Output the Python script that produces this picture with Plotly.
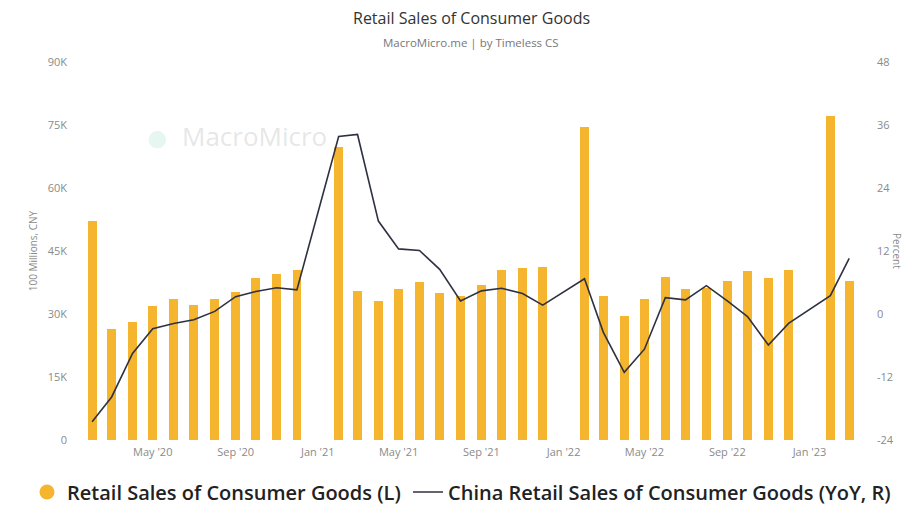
import plotly.graph_objects as go

months = [
    "2020-02-01", "2020-03-01", "2020-04-01", "2020-05-01", "2020-06-01", "2020-07-01",
    "2020-08-01", "2020-09-01", "2020-10-01", "2020-11-01", "2020-12-01",
    "2021-01-01", "2021-02-01", "2021-03-01", "2021-04-01", "2021-05-01", "2021-06-01",
    "2021-07-01", "2021-08-01", "2021-09-01", "2021-10-01", "2021-11-01", "2021-12-01",
    "2022-01-01", "2022-02-01", "2022-03-01", "2022-04-01", "2022-05-01", "2022-06-01",
    "2022-07-01", "2022-08-01", "2022-09-01", "2022-10-01", "2022-11-01", "2022-12-01",
    "2023-01-01", "2023-02-01", "2023-03-01",
]

# 100 Millions, CNY
retail_sales = [
    52130, 26450, 28178, 31973, 33526, 32203,
    33571, 35295, 38576, 39514, 40566,
    None, 69737, 35484, 33153, 35945, 37586,
    34925, 34395, 36833, 40454, 41043, 41269,
    None, 74426, 34233, 29483, 33547, 38742,
    35870, 36258, 37745, 40271, 38615, 40542,
    None, 77067, 37855,
]

# YoY, percent
retail_yoy = [
    -20.5, -15.8, -7.5, -2.8, -1.8, -1.1,
    0.5, 3.3, 4.3, 5.0, 4.6,
    None, 33.8, 34.2, 17.7, 12.4, 12.1,
    8.5, 2.5, 4.4, 4.9, 3.9, 1.7,
    None, 6.7, -3.5, -11.1, -6.7, 3.1,
    2.7, 5.4, 2.5, -0.5, -5.9, -1.8,
    None, 3.5, 10.6,
]

left_ticks = [0, 15000, 30000, 45000, 60000, 75000, 90000]
left_ticktext = ["0", "15K", "30K", "45K", "60K", "75K", "90K"]
right_ticks = [-24, -12, 0, 12, 24, 36, 48]
right_ticktext = ["-24", "-12", "0", "12", "24", "36", "48"]
x_ticks = ["2020-05-01", "2020-09-01", "2021-01-01", "2021-05-01", "2021-09-01",
           "2022-01-01", "2022-05-01", "2022-09-01", "2023-01-01"]
x_ticktext = ["May '20", "Sep '20", "Jan '21", "May '21", "Sep '21",
              "Jan '22", "May '22", "Sep '22", "Jan '23"]

BAR_COLOR = "#F6B52F"
LINE_COLOR = "#2E3142"
FONT = "Open Sans"

fig = go.Figure()

fig.add_trace(go.Bar(
    x=months, y=retail_sales, name="Retail Sales of Consumer Goods (L)",
    marker=dict(color=BAR_COLOR, line=dict(width=0)),
    width=13 * 86400000, showlegend=False, yaxis="y",
))
# legend proxy with circle marker
fig.add_trace(go.Scatter(
    x=[None], y=[None], mode="markers", name="Retail Sales of Consumer Goods (L)",
    marker=dict(color=BAR_COLOR, size=15, symbol="circle"), showlegend=True,
    legend="legend",
))
fig.add_trace(go.Scatter(
    x=months, y=retail_yoy, mode="lines", connectgaps=True,
    name="China Retail Sales of Consumer Goods (YoY, R)",
    line=dict(color=LINE_COLOR, width=1.6), yaxis="y2", legend="legend2",
))

tick_font = dict(family=FONT, size=11, color="#8a8a8a")
legend_font = dict(family=FONT, size=20, color="#222", weight=600)

fig.update_layout(
    width=913, height=509,
    margin=dict(l=80, r=51, t=62, b=69, autoexpand=False),
    paper_bgcolor="white", plot_bgcolor="white",
    font=dict(family=FONT, color="#333"),
    bargap=0,
    xaxis=dict(
        type="date", range=["2020-01-14", "2023-03-20"],
        tickvals=x_ticks, ticktext=x_ticktext, tickfont=tick_font,
        showgrid=False, zeroline=False, showline=False, ticks="",
        ticklabelstandoff=4,
    ),
    yaxis=dict(
        range=[0, 90000], tickvals=left_ticks, ticktext=left_ticktext,
        tickfont=tick_font, showgrid=False, zeroline=False, showline=False,
        ticklabelstandoff=12,
        title=dict(text="100 Millions, CNY", font=dict(family=FONT, size=10, color="#8a8a8a"),
                   standoff=8),
    ),
    yaxis2=dict(
        range=[-24, 48], overlaying="y", side="right",
        tickvals=right_ticks, ticktext=right_ticktext, tickfont=tick_font,
        showgrid=False, zeroline=False, showline=False,
        ticklabelstandoff=14,
    ),
    legend=dict(
        orientation="h", xref="container", yref="container",
        x=27 / 913, xanchor="left", y=17 / 509, yanchor="middle",
        font=legend_font, itemsizing="trace", itemwidth=30,
        bgcolor="rgba(0,0,0,0)",
    ),
    legend2=dict(
        orientation="h", xref="container", yref="container",
        x=408 / 913, xanchor="left", y=17 / 509, yanchor="middle",
        font=legend_font, itemsizing="trace", itemwidth=30,
        bgcolor="rgba(0,0,0,0)",
    ),
    annotations=[
        dict(text="Retail Sales of Consumer Goods", xref="paper", yref="paper",
             x=0.5, y=1, yshift=44, yanchor="middle", showarrow=False,
             font=dict(family=FONT, size=16, color="#333")),
        dict(text="MacroMicro.me | by Timeless CS", xref="paper", yref="paper",
             x=0.5, y=1, yshift=20, yanchor="middle", showarrow=False,
             font=dict(family=FONT, size=11.5, color="#777")),
        dict(text="Percent", xref="paper", yref="paper", x=1, xshift=44, y=0.5,
             textangle=90, showarrow=False,
             font=dict(family=FONT, size=10, color="#8a8a8a")),
        dict(text="MacroMicro", xref="paper", yref="paper", x=0.128, y=0.805,
             xanchor="left", yanchor="middle", showarrow=False,
             font=dict(family=FONT, size=26, color="rgba(170,170,170,0.3)")),
        dict(text="\u25CF", xref="paper", yref="paper", x=0.08, y=0.805,
             xanchor="left", yanchor="middle", showarrow=False,
             font=dict(family=FONT, size=40, color="rgba(60,190,150,0.15)")),
    ],
)

fig.write_html("out.html")
